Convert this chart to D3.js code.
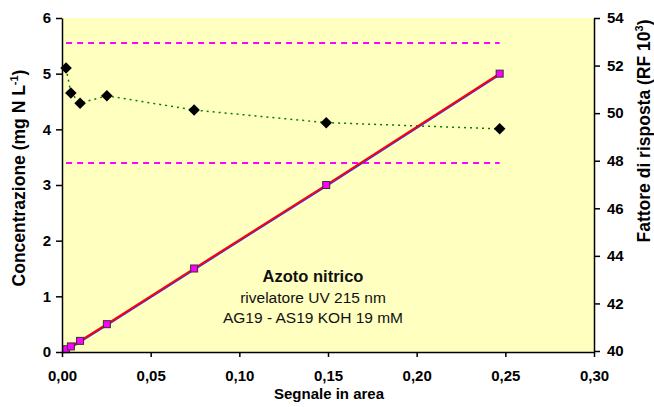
<!DOCTYPE html>
<html>
<head>
<meta charset="utf-8">
<script src="https://cdn.jsdelivr.net/npm/d3@7"></script>
<style>
  body { margin: 0; background: #fff; }
  text { font-family: "Liberation Sans", Arial, sans-serif; }
  .axis path, .axis line { stroke: #000; stroke-width: 1.5px; }
  .axis text { font-size: 15px; font-weight: bold; fill: #000; }
</style>
</head>
<body>
<div id="chart-area"></div>
<script>
// data
const signalArea = [0.0023, 0.005, 0.0102, 0.0253, 0.0745, 0.149, 0.2468]
const concentration = [0.05, 0.1, 0.2, 0.5, 1.5, 3, 5]
const responseFactor = [51.9, 50.85, 50.42, 50.73, 50.13, 49.6, 49.34]
const rfLimits = [47.9, 52.95]
const xTicks = [0, 0.05, 0.10, 0.15, 0.20, 0.25, 0.30]
const yTicks = [0, 1, 2, 3, 4, 5, 6]
const y2Ticks = [40, 42, 44, 46, 48, 50, 52, 54]
const notes = ["Azoto nitrico", "rivelatore UV 215 nm", "AG19 - AS19 KOH 19 mM"]

const MARGIN = { LEFT: 62, RIGHT: 60, TOP: 18, BOTTOM: 55 }
const WIDTH = 654 - MARGIN.LEFT - MARGIN.RIGHT
const HEIGHT = 407 - MARGIN.TOP - MARGIN.BOTTOM

const svg = d3.select("#chart-area").append("svg")
  .attr("width", 654)
  .attr("height", 407)

const g = svg.append("g")
  .attr("transform", `translate(${MARGIN.LEFT}, ${MARGIN.TOP})`)

const x = d3.scaleLinear().domain([0, 0.30]).range([0, WIDTH])
const y = d3.scaleLinear().domain([0, 6]).range([HEIGHT, 0])
const y2 = d3.scaleLinear().domain([40, 54]).range([HEIGHT - 1, 0])

const fmt = d3.format(".2f")

g.append("rect")
  .attr("width", WIDTH)
  .attr("height", HEIGHT)
  .attr("fill", "#FFFFC0")

// limit lines
rfLimits.forEach(v => {
  g.append("line")
    .attr("x1", x(signalArea[0]))
    .attr("x2", x(signalArea[signalArea.length - 1]))
    .attr("y1", y2(v))
    .attr("y2", y2(v))
    .attr("stroke", "#FF00FF")
    .attr("stroke-width", 2)
    .attr("stroke-dasharray", "6,5")
})

const points = signalArea.map((a, i) => ({ a: a, c: concentration[i], rf: responseFactor[i] }))

// response factor
g.append("path")
  .datum(points)
  .attr("fill", "none")
  .attr("stroke", "#008000")
  .attr("stroke-width", 1.5)
  .attr("stroke-dasharray", "2,4")
  .attr("d", d3.line().x(d => x(d.a)).y(d => y2(d.rf)))

g.selectAll(".diamond")
  .data(points)
  .enter().append("path")
  .attr("class", "diamond")
  .attr("transform", d => `translate(${x(d.a)}, ${y2(d.rf)})`)
  .attr("d", d3.symbol().type(d3.symbolDiamond2).size(85))
  .attr("fill", "#000")

// calibration
g.append("path")
  .datum(points)
  .attr("fill", "none")
  .attr("stroke", "#3030FF")
  .attr("stroke-width", 1.5)
  .attr("transform", "translate(0.8, 0.8)")
  .attr("d", d3.line().x(d => x(d.a)).y(d => y(d.c)))

g.append("path")
  .datum(points)
  .attr("fill", "none")
  .attr("stroke", "#FF0000")
  .attr("stroke-width", 2)
  .attr("d", d3.line().x(d => x(d.a)).y(d => y(d.c)))

g.selectAll(".square")
  .data(points)
  .enter().append("rect")
  .attr("class", "square")
  .attr("x", d => x(d.a) - 3.5)
  .attr("y", d => y(d.c) - 3.5)
  .attr("width", 7)
  .attr("height", 7)
  .attr("fill", "#FF00FF")
  .attr("stroke", "#333")
  .attr("stroke-width", 1)

// axes
g.append("g")
  .attr("class", "x axis")
  .attr("transform", `translate(0, ${HEIGHT})`)
  .call(d3.axisBottom(x).tickValues(xTicks).tickFormat(d => fmt(d).replace(".", ",")).tickSize(5).tickSizeOuter(0).tickPadding(13))

g.append("g")
  .attr("class", "y axis")
  .call(d3.axisLeft(y).tickValues(yTicks).tickFormat(d3.format("d")).tickSize(6).tickSizeOuter(0).tickPadding(5))

g.append("g")
  .attr("class", "y2 axis")
  .attr("transform", `translate(${WIDTH}, 0)`)
  .call(d3.axisRight(y2).tickValues(y2Ticks).tickSize(6).tickSizeOuter(0).tickPadding(7))

// labels
svg.append("text")
  .attr("x", 329)
  .attr("y", 399)
  .attr("text-anchor", "middle")
  .attr("font-size", "15px")
  .attr("font-weight", "bold")
  .text("Segnale in area")

const yLabel = svg.append("text")
  .attr("transform", "translate(25, 178) rotate(-90)")
  .attr("text-anchor", "middle")
  .attr("font-size", "17.5px")
  .attr("font-weight", "bold")
yLabel.append("tspan").text("Concentrazione (mg N L")
yLabel.append("tspan").attr("dy", -7).attr("font-size", "11px").text("-1")
yLabel.append("tspan").attr("dy", 7).text(")")

const y2Label = svg.append("text")
  .attr("transform", "translate(650, 131) rotate(-90)")
  .attr("text-anchor", "middle")
  .attr("font-size", "17.5px")
  .attr("font-weight", "bold")
y2Label.append("tspan").text("Fattore di risposta (RF 10")
y2Label.append("tspan").attr("dy", -7).attr("font-size", "11px").text("3")
y2Label.append("tspan").attr("dy", 7).text(")")

notes.forEach((t, i) => {
  svg.append("text")
    .attr("x", 313)
    .attr("y", 282 + i * 20.5)
    .attr("text-anchor", "middle")
    .attr("font-size", i === 0 ? "16.5px" : "15.5px")
    .attr("font-weight", i === 0 ? "bold" : "normal")
    .attr("fill", "#111")
    .text(t)
})
</script>
</body>
</html>
